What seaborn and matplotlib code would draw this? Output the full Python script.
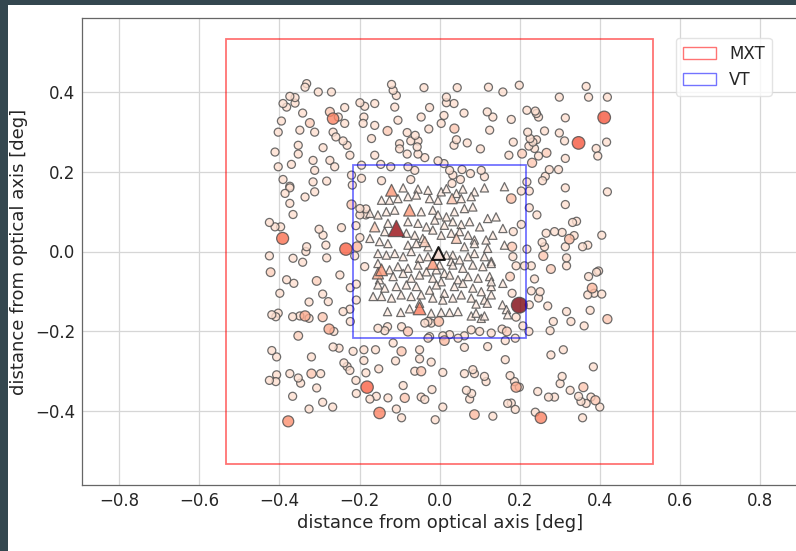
import matplotlib
matplotlib.use("Agg")
import matplotlib.pyplot as plt
from matplotlib.patches import Rectangle, Patch
import numpy as np
import pandas as pd
import seaborn as sns

# half widths of the two fields of view [deg]
MXT_HALF = 0.533
VT_HALF = 0.217

# faint sources drawn as circles (common signal level)
CIRC_LEVEL = 0.13
circ_x = [
    -0.332, -0.336, -0.303, -0.270, -0.374, -0.361, -0.391, -0.382, -0.361, -0.342, -0.237, -0.253, -0.199, -0.187,
    -0.162, -0.189, -0.191, -0.162, -0.395, -0.237, -0.403, -0.349, -0.312, -0.266, -0.259, -0.241, -0.231, -0.170,
    -0.353, -0.291, -0.411, -0.353, -0.316, -0.274, -0.224, -0.162, -0.403, -0.370, -0.312, -0.262, -0.195, -0.391,
    -0.374, -0.316, -0.282, -0.220, -0.195, -0.218,
    -0.120, -0.116, -0.108, -0.039, 0.044, 0.122, -0.112, -0.025, 0.017, 0.017, 0.036, 0.061, 0.119, 0.133, -0.046,
    0.011, 0.004, -0.104, -0.081, -0.061, -0.072, -0.054, -0.027, 0.042, 0.036, 0.069, 0.102, 0.125, -0.100, -0.100,
    -0.056, -0.054, -0.037, -0.081, -0.004, 0.011, -0.147, -0.122, -0.079, -0.062, 0.025, 0.056, 0.033, 0.077, 0.104,
    0.112, -0.145, -0.072, 0.052, 0.031,
    0.158, 0.199, 0.179, 0.218, 0.239, 0.242, 0.247, 0.220, 0.226, 0.233, 0.242, 0.223, 0.237, 0.262, 0.184, 0.299,
    0.366, 0.372, 0.419, 0.314, 0.299, 0.312, 0.417, 0.391, 0.395, 0.173, 0.247, 0.314, 0.274, 0.257, 0.264, 0.297,
    0.218,
    -0.386, -0.374, -0.336, -0.312, -0.374, -0.366, -0.199, -0.184, -0.199, -0.184, -0.425, -0.411, -0.397, -0.301,
    -0.291, -0.245, -0.209, -0.332, -0.334, -0.284, -0.199, -0.425, -0.366, -0.342, -0.282, -0.212, -0.187, -0.382,
    -0.364, -0.249, -0.208, -0.223, -0.399, -0.292, -0.326, -0.278, -0.208,
    0.204, 0.224, 0.314, 0.419, 0.224, 0.243, 0.314, 0.204, 0.184, 0.332, 0.342, 0.266, 0.287, 0.306, 0.336, 0.405,
    0.256, 0.262, 0.314, 0.357, 0.370, 0.218, 0.183, 0.317, 0.317, 0.191, 0.229, 0.212, 0.237, 0.372, 0.392, 0.397,
    0.229, 0.251, 0.247, 0.181, 0.370, 0.386, 0.405,
    -0.419, -0.409, -0.403, -0.367, -0.349, -0.326, -0.241, -0.224, -0.223, -0.264, -0.419, -0.407, -0.266, -0.251,
    -0.216, -0.189, -0.160, -0.320, -0.189, -0.239, -0.231, -0.224, -0.374, -0.297, -0.184, -0.425, -0.409, -0.407,
    -0.353, -0.347, -0.209, -0.307, -0.208, -0.174, -0.158, -0.367, -0.292, -0.267, -0.326,
    -0.037, -0.029, -0.021, -0.154, -0.137, -0.130, -0.095, -0.029, -0.025, 0.008, 0.025, 0.046, 0.062, 0.079, 0.100,
    0.129, -0.116, -0.050, -0.050, 0.062, 0.120, -0.110, -0.021, -0.152, -0.062, 0.008, 0.062, 0.083, 0.087, 0.112,
    0.116, -0.091, -0.019, -0.129, -0.046, -0.037, 0.067, 0.080, 0.075, -0.108, -0.095, 0.008, -0.011, 0.133,
    0.224, 0.270, 0.317, 0.376, 0.191, 0.208, 0.223, 0.284, 0.276, 0.328, 0.361, 0.156, 0.164, 0.189, 0.278, 0.309,
    0.164, 0.384, 0.176, 0.187, 0.306, 0.301, 0.199, 0.245, 0.326, 0.272, 0.287, 0.347, 0.353, 0.366, 0.378, 0.400,
    0.170, 0.179, 0.189, 0.239, 0.357,
]
circ_y = [
    0.422, 0.413, 0.401, 0.401, 0.390, 0.387, 0.372, 0.363, 0.373, 0.348, 0.362, 0.338, 0.374, 0.365,
    0.372, 0.338, 0.322, 0.317, 0.328, 0.322, 0.300, 0.305, 0.300, 0.300, 0.288, 0.278, 0.267, 0.284,
    0.267, 0.261, 0.250, 0.245, 0.229, 0.229, 0.242, 0.242, 0.213, 0.219, 0.204, 0.213, 0.217, 0.181,
    0.164, 0.175, 0.177, 0.192, 0.184, 0.167,
    0.420, 0.405, 0.392, 0.412, 0.412, 0.413, 0.363, 0.362, 0.388, 0.374, 0.372, 0.348, 0.351, 0.338, 0.338,
    0.342, 0.322, 0.330, 0.299, 0.292, 0.278, 0.278, 0.308, 0.281, 0.267, 0.273, 0.258, 0.305, 0.271, 0.258,
    0.263, 0.245, 0.236, 0.245, 0.228, 0.221, 0.219, 0.213, 0.213, 0.204, 0.204, 0.206, 0.192, 0.196, 0.204,
    0.188, 0.178, 0.181, 0.181, 0.171,
    0.401, 0.418, 0.332, 0.355, 0.353, 0.347, 0.338, 0.300, 0.284, 0.275, 0.281, 0.265, 0.259, 0.303, 0.275, 0.388,
    0.415, 0.388, 0.388, 0.336, 0.298, 0.278, 0.275, 0.259, 0.240, 0.242, 0.240, 0.234, 0.206, 0.178, 0.189, 0.206,
    0.175,
    0.146, 0.160, 0.137, 0.150, 0.121, 0.093, 0.108, 0.107, 0.092, 0.092, 0.073, 0.062, 0.062, 0.056,
    0.041, 0.060, 0.065, 0.012, 0.000, 0.016, 0.035, -0.011, -0.017, -0.027, -0.016, -0.011, -0.038, -0.071,
    -0.080, -0.059, -0.082, -0.091, -0.105, -0.107, -0.127, -0.126, -0.122,
    0.152, 0.152, 0.160, 0.150, 0.110, 0.092, 0.118, 0.068, 0.050, 0.073, 0.076, 0.046, 0.050, 0.048, 0.040, 0.041,
    0.023, 0.012, 0.012, 0.012, 0.016, 0.006, -0.013, -0.016, -0.036, -0.036, -0.036, -0.036, -0.069, -0.063, -0.052,
    -0.049, -0.099, -0.101, -0.117, -0.105, -0.109, -0.105, -0.107,
    -0.159, -0.164, -0.155, -0.164, -0.162, -0.168, -0.151, -0.145, -0.176, -0.201, -0.249, -0.265, -0.240, -0.243,
    -0.251, -0.247, -0.247, -0.265, -0.274, -0.280, -0.289, -0.299, -0.307, -0.307, -0.305, -0.324, -0.327, -0.310,
    -0.318, -0.331, -0.324, -0.343, -0.357, -0.371, -0.364, -0.364, -0.379, -0.391, -0.396,
    -0.180, -0.176, -0.180, -0.193, -0.199, -0.189, -0.189, -0.218, -0.214, -0.212, -0.209, -0.218, -0.212, -0.197,
    -0.201, -0.205, -0.230, -0.247, -0.270, -0.241, -0.239, -0.275, -0.278, -0.295, -0.301, -0.304, -0.307, -0.297,
    -0.307, -0.314, -0.327, -0.337, -0.347, -0.368, -0.366, -0.372, -0.349, -0.357, -0.371, -0.396, -0.418, -0.391,
    -0.423, -0.414,
    -0.134, -0.137, -0.151, -0.148, -0.165, -0.187, -0.201, -0.176, -0.199, -0.176, -0.187, -0.195, -0.224, -0.218,
    -0.260, -0.247, -0.272, -0.290, -0.312, -0.327, -0.314, -0.332, -0.341, -0.352, -0.349, -0.366, -0.366, -0.364,
    -0.377, -0.382, -0.366, -0.391, -0.382, -0.381, -0.397, -0.404, -0.418,
]

# circles with a stronger signal
hot_circ_x = [-0.274, -0.266, -0.324, -0.130, 0.037, 0.411, 0.347, 0.206, 0.267, 0.231, -0.220, -0.392, -0.234, -0.206,
              -0.422, -0.307, 0.179, 0.324, 0.181, 0.259, 0.278, 0.176, 0.381, 0.199, -0.336, -0.292, -0.276, -0.353,
              -0.320, -0.181, -0.378, -0.002, -0.079, 0.012, -0.095, -0.046, -0.087, -0.150, 0.087, 0.419, 0.168,
              0.191, 0.359, 0.389, 0.253]
hot_circ_y = [0.351, 0.334, 0.323, 0.303, 0.309, 0.337, 0.273, 0.246, 0.248, 0.223, 0.118, 0.033, 0.006, 0.012,
              -0.052, -0.074, 0.133, 0.031, 0.012, -0.011, -0.044, -0.063, -0.092, -0.135, -0.162, -0.165, -0.195,
              -0.212, -0.307, -0.341, -0.427, -0.176, -0.201, -0.224, -0.251, -0.301, -0.368, -0.406, -0.410, -0.170,
              -0.201, -0.341, -0.341, -0.374, -0.418]
hot_circ_v = [0.20, 0.42, 0.19, 0.20, 0.21, 0.55, 0.55, 0.19, 0.19, 0.21, 0.21, 0.48, 0.52, 0.26,
              0.18, 0.18, 0.24, 0.25, 0.21, 0.21, 0.19, 0.18, 0.26, 0.95, 0.30, 0.21, 0.30,
              0.18, 0.21, 0.52, 0.38, 0.25, 0.21, 0.25, 0.21, 0.21, 0.21, 0.42, 0.25, 0.21,
              0.19, 0.30, 0.21, 0.21, 0.42]

# faint sources drawn as triangles
TRI_LEVEL = 0.06
tri_x = [
    -0.091, -0.054, -0.029, 0.004, 0.017, 0.042, 0.058, 0.087, 0.112,
    -0.145, -0.125, -0.104, -0.079, -0.058, -0.025, -0.004, 0.054, 0.079,
    -0.154, -0.133, -0.112, -0.046, -0.017, -0.004, 0.017, 0.037, 0.062, 0.083, 0.120,
    -0.129, -0.079, -0.054, -0.033, -0.012, 0.012, 0.033, 0.054, 0.075, 0.100,
    -0.137, -0.083, -0.062, -0.042, -0.017, 0.004, 0.029, 0.050, 0.071, 0.087, 0.116, 0.133,
    -0.150, -0.129, -0.079, -0.058, -0.029, 0.017, 0.033, 0.062, 0.087, 0.120,
    -0.154, -0.133, -0.112, -0.091, -0.071, -0.050, -0.029, 0.000, 0.029, 0.050, 0.071, 0.087, 0.112,
    -0.125, -0.104, -0.079, -0.054, -0.033, -0.008, 0.012, 0.033, 0.058, 0.083, 0.108, 0.129,
    -0.150, -0.116, -0.091, -0.071, -0.050, -0.017, 0.004, 0.025, 0.046, 0.071, 0.096, 0.125,
    -0.137, -0.108, -0.083, -0.058, -0.025, -0.008, 0.012, 0.037, 0.058, 0.083, 0.104, 0.129,
    -0.145, -0.120, -0.096, -0.071, -0.046, -0.017, 0.008, 0.033, 0.054, 0.079, 0.112, -0.050,
    -0.130, -0.097, -0.075, -0.021, 0.004, 0.025, 0.046, 0.079, 0.091, 0.091, 0.104, 0.119, 0.112,
    0.157, 0.167, 0.170,
    -0.174, -0.174, -0.154, -0.166, -0.154,
    0.162, 0.141, 0.158, 0.162, 0.129, 0.158, 0.129, 0.129,
]
tri_y = [
    0.160, 0.157, 0.154, 0.150, 0.158, 0.146, 0.157, 0.150, 0.160,
    0.129, 0.129, 0.133, 0.138, 0.142, 0.133, 0.129, 0.133, 0.138,
    0.092, 0.100, 0.104, 0.100, 0.104, 0.092, 0.087, 0.100, 0.108, 0.112, 0.083,
    0.071, 0.075, 0.071, 0.062, 0.079, 0.066, 0.075, 0.068, 0.075, 0.062,
    0.050, 0.046, 0.041, 0.033, 0.054, 0.041, 0.046, 0.050, 0.041, 0.029, 0.029, 0.041,
    0.025, 0.020, 0.016, 0.020, 0.012, -0.009, -0.009, 0.012, 0.020, 0.008,
    -0.005, -0.009, -0.005, -0.013, 0.000, -0.017, -0.013, -0.034, -0.025, -0.021, -0.013, -0.005, -0.013,
    -0.046, -0.038, -0.042, -0.034, -0.051, -0.046, -0.055, -0.034, -0.042, -0.034, -0.038, -0.025,
    -0.071, -0.063, -0.055, -0.067, -0.059, -0.067, -0.076, -0.059, -0.071, -0.063, -0.067, -0.063,
    -0.092, -0.088, -0.084, -0.088, -0.097, -0.084, -0.105, -0.088, -0.080, -0.092, -0.101, -0.088,
    -0.113, -0.117, -0.109, -0.113, -0.109, -0.117, -0.122, -0.117, -0.109, -0.117, -0.122, -0.130,
    -0.151, -0.153, -0.144, -0.155, -0.153, -0.153, -0.151, -0.162, -0.132, -0.155, -0.168, -0.130, -0.162,
    -0.134, -0.146, -0.159,
    0.096, 0.033, -0.030, -0.113, -0.084,
    0.163, 0.087, 0.058, 0.016, -0.030, -0.080, -0.076, -0.109,
]

# triangles with a stronger signal
hot_tri_x = [-0.120, -0.075, 0.031, -0.108, -0.037, 0.042, -0.017, -0.145, -0.050, -0.154, -0.162]
hot_tri_y = [0.154, 0.104, 0.133, 0.058, 0.025, 0.033, -0.030, -0.046, -0.143, -0.055, 0.062]
hot_tri_v = [0.36, 0.36, 0.22, 0.90, 0.20, 0.20, 0.36, 0.36, 0.45, 0.30, 0.20]

# pointing target at the optical axis
target_x = [-0.005]
target_y = [-0.003]


def make_frame(xs, ys, level, hot_xs, hot_ys, hot_vs):
    df = pd.DataFrame({
        "x": list(xs) + list(hot_xs),
        "y": list(ys) + list(hot_ys),
        "signal": [level] * len(xs) + list(hot_vs),
    })
    return df.sort_values("signal").reset_index(drop=True)


circles = make_frame(circ_x, circ_y, CIRC_LEVEL, hot_circ_x, hot_circ_y, hot_circ_v)
triangles = make_frame(tri_x, tri_y, TRI_LEVEL, hot_tri_x, hot_tri_y, hot_tri_v)

sns.set_style("whitegrid")
plt.rcParams["font.family"] = ["DejaVu Sans"]

fig = plt.figure(figsize=(7.96, 5.51), dpi=100, facecolor="#34474f")
fig.patches.append(Rectangle((8 / 796, 0), 1, 546 / 551, transform=fig.transFigure,
                             facecolor="white", edgecolor="none", zorder=-5))
ax = fig.add_axes([82 / 796, (551 - 485) / 551, 716 / 796, 467 / 551])

common = dict(hue="signal", size="signal", palette="Reds", hue_norm=(0, 1),
              size_norm=(0.05, 1.0), alpha=0.8,
              edgecolor="#4a4a4a", linewidth=0.9, legend=False, ax=ax)
sns.scatterplot(data=circles, x="x", y="y", marker="o", sizes=(24, 135), zorder=2, **common)
sns.scatterplot(data=triangles, x="x", y="y", marker="^", sizes=(34, 150), zorder=3, **common)
sns.scatterplot(x=target_x, y=target_y, marker="^", s=85, color="#f3d6cc",
                edgecolor="black", linewidth=1.5, alpha=0.9, zorder=4, legend=False, ax=ax)

ax.add_patch(Rectangle((-MXT_HALF, -MXT_HALF), 2 * MXT_HALF, 2 * MXT_HALF, fill=False,
                       edgecolor="red", alpha=0.55, linewidth=1.3, zorder=5))
ax.add_patch(Rectangle((-VT_HALF, -VT_HALF), 2 * VT_HALF, 2 * VT_HALF, fill=False,
                       edgecolor="blue", alpha=0.55, linewidth=1.3, zorder=5))

ax.set_xlim(-0.893, 0.895)
ax.set_ylim(-0.587, 0.587)
ax.set_xticks(np.arange(-0.8, 0.81, 0.2))
ax.set_yticks(np.arange(-0.4, 0.41, 0.2))
ax.tick_params(labelsize=12, length=0, pad=5)
ax.grid(True, color="#d6d6d6", linewidth=0.9)
ax.set_axisbelow(True)
for sp in ax.spines.values():
    sp.set_color("#666666")
    sp.set_linewidth(0.9)
ax.set_xlabel("distance from optical axis [deg]", fontsize=13, labelpad=3)
ax.set_ylabel("distance from optical axis [deg]", fontsize=13, labelpad=5)

handles = [Patch(facecolor="none", edgecolor="red", alpha=0.55, label="MXT"),
           Patch(facecolor="none", edgecolor="blue", alpha=0.55, label="VT")]
ax.legend(handles=handles, loc="upper right", bbox_to_anchor=(0.975, 0.975), fontsize=12,
          frameon=True, framealpha=0.8, edgecolor="#dddddd", fancybox=True)

fig.savefig("out.png", dpi=100, facecolor=fig.get_facecolor())
